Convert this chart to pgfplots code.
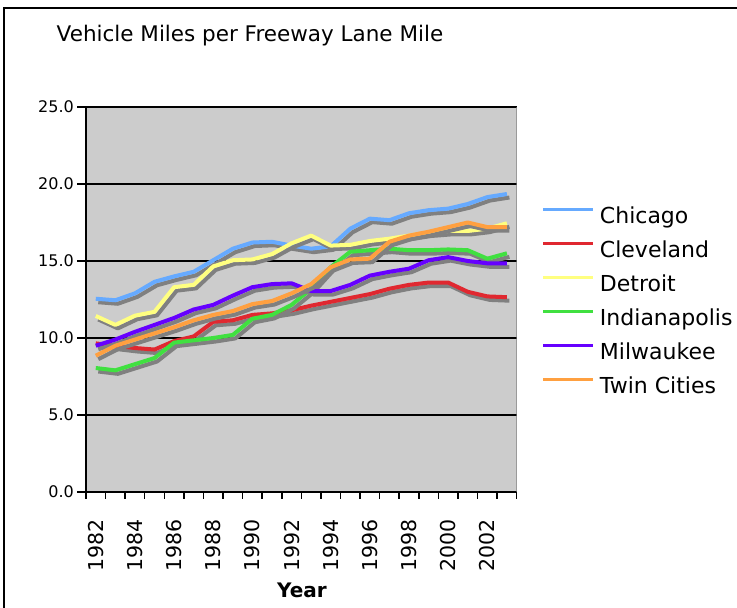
\documentclass[border=0pt]{standalone}
\usepackage{pgfplots}
\pgfplotsset{compat=1.18}
\usepackage{pgfplotstable}
\usepackage{fontspec}
\setmainfont{DejaVu Sans}
\definecolor{cchi}{RGB}{102,170,255}
\definecolor{ccle}{RGB}{224,40,48}
\definecolor{cdet}{RGB}{255,255,128}
\definecolor{cind}{RGB}{64,224,64}
\definecolor{cmil}{RGB}{102,0,255}
\definecolor{ctwin}{RGB}{255,160,64}
\definecolor{cbg}{RGB}{204,204,204}
\definecolor{cshadow}{RGB}{128,128,128}
\pgfplotstableread{
yr chi cle det ind mil twin
0  12.55 9.65 11.43 8.05 9.50 8.85
1  12.45 9.50 10.85 7.90 9.90 9.50
2  12.90 9.35 11.45 8.30 10.40 9.90
3  13.65 9.25 11.70 8.70 10.85 10.30
4  14.00 9.80 13.30 9.70 11.30 10.70
5  14.30 10.10 13.45 9.85 11.85 11.15
6  15.05 11.05 14.65 10.00 12.15 11.50
7  15.80 11.15 15.05 10.20 12.75 11.75
8  16.20 11.50 15.10 11.25 13.30 12.20
9  16.25 11.60 15.45 11.50 13.50 12.40
10 16.00 11.80 16.15 12.15 13.55 12.90
11 15.80 12.10 16.65 13.20 13.05 13.50
12 15.95 12.35 16.00 14.60 13.05 14.60
13 17.10 12.60 16.05 15.60 13.45 15.10
14 17.75 12.85 16.30 15.70 14.05 15.15
15 17.65 13.20 16.45 15.80 14.30 16.25
16 18.10 13.45 16.65 15.70 14.50 16.65
17 18.30 13.60 16.85 15.70 15.05 16.90
18 18.40 13.60 16.95 15.75 15.25 17.20
19 18.70 13.00 16.95 15.70 15.00 17.50
20 19.15 12.70 17.10 15.15 14.85 17.20
21 19.35 12.65 17.45 15.50 14.85 17.20
}\data
\begin{document}
\begin{tikzpicture}
\useasboundingbox (0,0) rectangle (737pt,608pt);
\fill[white] (0,0) rectangle (737pt,608pt);
\draw[line width=2pt] (4pt,-10pt) -- (4pt,599.5pt) -- (750pt,599.5pt);
\node[anchor=base, font=\fontsize{21.5}{21.5}\selectfont] at (250pt,566pt) {Vehicle Miles per Freeway Lane Mile};
\node[anchor=base, font=\fontsize{20}{20}\selectfont\bfseries] at (302pt,10pt) {Year};
\begin{axis}[
  at={(86pt,116pt)}, anchor=south west, scale only axis,
  width=430.7pt, height=385pt,
  xmin=-0.5, xmax=21.5, ymin=0, ymax=25,
  axis background/.style={fill=cbg},
  axis x line*=bottom, axis y line*=left,
  axis line style={line width=1.5pt, black, -},
  tick align=outside,
  xtick={0,2,...,20},
  xticklabels={1982,1984,1986,1988,1990,1992,1994,1996,1998,2000,2002},
  major x tick style={draw=none},
  minor xtick={-0.5,0.5,...,21.5},
  minor tick length=7pt,
  minor x tick style={black, line width=1.5pt},
  ytick={0,5,...,25},
  yticklabels={0.0,5.0,10.0,15.0,20.0,25.0},
  major tick length=9pt,
  major y tick style={black, line width=1.5pt},
  ymajorgrids,
  grid style={black, line width=1.2pt},
  yticklabel style={font=\fontsize{16}{16}\selectfont, inner sep=0pt, anchor=east, xshift=-3pt},
  xticklabel style={font=\fontsize{20.5}{20.5}\selectfont, yshift=-18pt, rotate=90, anchor=east, inner sep=0pt},
  legend style={at={(1.0587,0.7369)}, anchor=north west, draw=none, fill=none,
    inner sep=0pt, outer sep=0pt, row sep=15pt, column sep=5pt,
    font=\fontsize{22}{22}\selectfont,
    nodes={inner sep=0pt, text height=15pt, text depth=4pt}},
  legend cell align=left,
  legend image code/.code={\draw[#1, line width=3pt] (0pt,8pt) -- (50pt,8pt);},
  every axis plot/.append style={line width=4pt, line join=round},
]
\addplot[cshadow, xshift=2.5pt, yshift=-3.5pt, forget plot] table[x=yr,y=chi]{\data};
\addplot[cchi] table[x=yr,y=chi]{\data};
\addplot[cshadow, xshift=2.5pt, yshift=-3.5pt, forget plot] table[x=yr,y=cle]{\data};
\addplot[ccle] table[x=yr,y=cle]{\data};
\addplot[cshadow, xshift=2.5pt, yshift=-3.5pt, forget plot] table[x=yr,y=det]{\data};
\addplot[cdet] table[x=yr,y=det]{\data};
\addplot[cshadow, xshift=2.5pt, yshift=-3.5pt, forget plot] table[x=yr,y=ind]{\data};
\addplot[cind] table[x=yr,y=ind]{\data};
\addplot[cshadow, xshift=2.5pt, yshift=-3.5pt, forget plot] table[x=yr,y=mil]{\data};
\addplot[cmil] table[x=yr,y=mil]{\data};
\addplot[cshadow, xshift=2.5pt, yshift=-3.5pt, forget plot] table[x=yr,y=twin]{\data};
\addplot[ctwin] table[x=yr,y=twin]{\data};
\draw[cshadow, line width=1.2pt] (rel axis cs:1,0) -- (rel axis cs:1,1);
\legend{Chicago,Cleveland,Detroit,Indianapolis,Milwaukee,Twin Cities}
\end{axis}
\end{tikzpicture}
\end{document}
